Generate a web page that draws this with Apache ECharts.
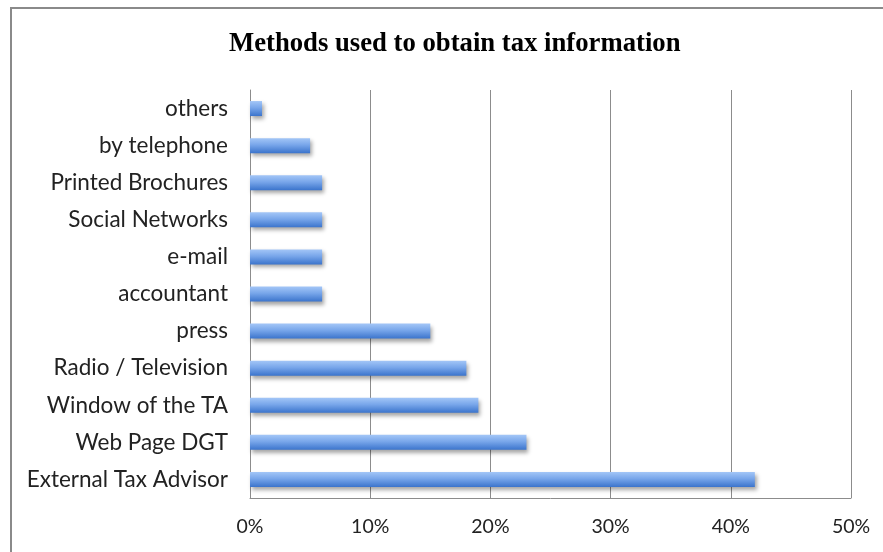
<!DOCTYPE html>
<html>
<head>
<meta charset="utf-8">
<script src="https://cdn.jsdelivr.net/npm/echarts@6/dist/echarts.min.js"></script>
<style>
  html, body { margin: 0; padding: 0; background: #fff; }
  #frame { position: absolute; left: 10px; top: 7px; width: 900px; height: 600px;
           border-left: 2px solid #8a8a8a; border-top: 2px solid #8a8a8a; }
  #chart { position: absolute; left: 0; top: 0; width: 883px; height: 552px; }
</style>
</head>
<body>
<div id="frame"></div>
<div id="chart"></div>
<script>
// Survey answers, listed bottom-to-top as drawn on the category axis
const methods = [
  'External Tax Advisor', 'Web Page DGT', 'Window of the TA', 'Radio / Television',
  'press', 'accountant', 'e-mail', 'Social Networks', 'Printed Brochures',
  'by telephone', 'others'
];
const shares = [42, 23, 19, 18, 15, 6, 6, 6, 6, 5, 1];
const percentTicks = [0, 10, 20, 30, 40, 50];

const chart = echarts.init(document.getElementById('chart'), null, { renderer: 'canvas' });

chart.setOption({
  backgroundColor: 'transparent',
  animation: false,
  title: {
    text: 'Methods used to obtain tax information',
    left: 224,
    top: 26,
    textStyle: {
      fontFamily: 'Liberation Serif',
      fontWeight: 'bold',
      fontSize: 26.7,
      color: '#000'
    }
  },
  grid: { left: 250, right: 32, top: 90, bottom: 54 },
  xAxis: {
    type: 'value',
    min: percentTicks[0],
    max: percentTicks[percentTicks.length - 1],
    interval: 10,
    axisLine: { show: true, lineStyle: { color: '#8c8c8c', width: 1 } },
    axisTick: { show: false },
    splitLine: { show: true, lineStyle: { color: '#8c8c8c', width: 1 } },
    axisLabel: {
      margin: 19,
      formatter: v => v + '%',
      fontFamily: 'Lato',
      fontSize: 19.5,
      color: '#222'
    }
  },
  yAxis: {
    type: 'category',
    data: methods,
    axisLine: { show: true, lineStyle: { color: '#8c8c8c', width: 1 } },
    axisTick: { show: false },
    axisLabel: {
      margin: 22,
      fontFamily: 'Lato',
      fontSize: 22.5,
      color: '#222'
    }
  },
  series: [{
    type: 'bar',
    data: shares,
    barWidth: 15,
    itemStyle: {
      color: new echarts.graphic.LinearGradient(0, 0, 0, 1, [
        { offset: 0, color: '#a3c6f7' },
        { offset: 0.45, color: '#78a6ea' },
        { offset: 1, color: '#3b74cc' }
      ]),
      shadowColor: 'rgba(0,0,0,0.35)',
      shadowBlur: 4,
      shadowOffsetX: 2,
      shadowOffsetY: 3
    }
  }]
});
</script>
</body>
</html>
